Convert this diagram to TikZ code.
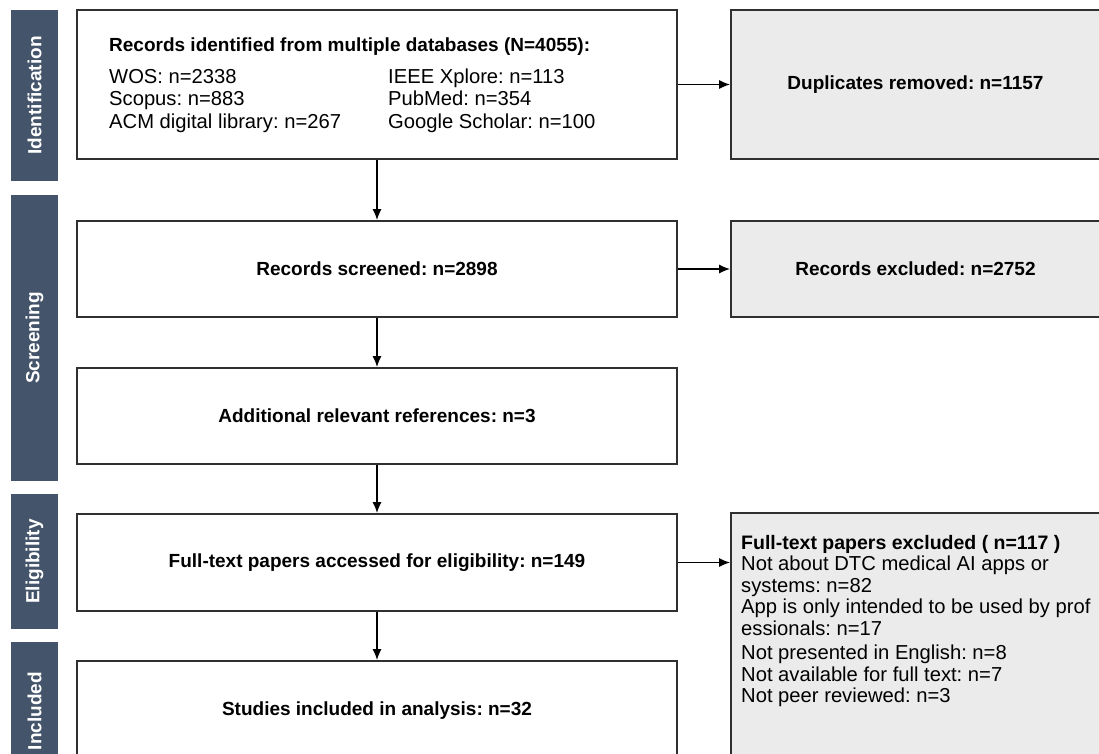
\documentclass[tikz,border=0pt]{standalone}
\usepackage{fontspec}
\setmainfont{Liberation Sans}
\usepackage{tikz}
\usetikzlibrary{positioning, arrows.meta, calc}
\definecolor{barblue}{HTML}{44546A}
\definecolor{exgray}{HTML}{EBEBEB}
\definecolor{edgegray}{HTML}{303030}
\frenchspacing

\begin{document}
\begin{tikzpicture}[x=1pt, y=-1pt,
  font=\fontsize{19}{22}\selectfont,
  mainbox/.style={draw=edgegray, line width=1.6pt, fill=white, minimum width=600pt, inner sep=0pt},
  sidebox/.style={draw=edgegray, line width=1.6pt, fill=exgray, minimum width=369pt, inner sep=0pt},
  phase/.style={fill=barblue, minimum width=47pt, inner sep=0pt},
  phasetxt/.style={text=white, font=\fontsize{19}{22}\selectfont\bfseries, rotate=90, inner sep=0pt},
  line/.style={anchor=base west, inner sep=0pt, font=\fontsize{20.2}{24}\selectfont},
  flow/.style={draw=black, line width=1.7pt, -{Latex[length=11pt,width=9pt]}}
]
\useasboundingbox (0,0) rectangle (1099,753);
\clip (0,0) rectangle (1099,753);

% phase bars on the left
\foreach \name/\top/\bot/\lab in {ident/10/181/Identification, screen/195/481/Screening, elig/494/629/Eligibility, incl/642/780/Included}{
  \node[phase, minimum height=\bot-\top] (\name) at (34.5, {(\top+\bot)/2}) {};
  \node[phasetxt] (\name txt) at (\name) {\lab};
}

% main column
\node[mainbox, minimum height=149pt] (recid) at (377, 84.5) {};
\node[mainbox, minimum height=96pt] (recscr) at (377, 269) {\bfseries Records screened: n=2898};
\node[mainbox, minimum height=96pt] (addref) at (377, 416) {\bfseries Additional relevant references: n=3};
\node[mainbox, minimum height=97pt] (fulltxt) at (377, 562.5) {\bfseries Full-text papers accessed for eligibility: n=149};
\node[mainbox, minimum height=100pt] (studies) at (377, 711) {\bfseries Studies included in analysis: n=32};

% text of the first box
\node[line, font=\fontsize{19}{22}\selectfont\bfseries] (recidtitle) at (109, 51) {Records identified from multiple databases (N=4055):};
\foreach \txt [count=\i] in {WOS: n=2338, Scopus: n=883, ACM digital library: n=267}{
  \node[line] (srcl\i) at (109, 60.5+22.5*\i) {\txt};
}
\foreach \txt [count=\i] in {IEEE Xplore: n=113, PubMed: n=354, Google Scholar: n=100}{
  \node[line] (srcr\i) at (388, 60.5+22.5*\i) {\txt};
}

% excluded column
\node[sidebox, minimum height=149pt] (dupl) at (915.5, 84.5) {\bfseries Duplicates removed: n=1157};
\node[sidebox, minimum height=96pt] (recexc) at (915.5, 269) {\bfseries Records excluded: n=2752};
\node[sidebox, minimum height=260pt] (fullexc) at (915.5, 643) {};

\node[line, font=\fontsize{19.5}{22}\selectfont\bfseries] (fullexc0) at (741, 549) {Full-text papers excluded ( n=117 )};
\foreach \txt [count=\i] in {Not about DTC medical AI apps or, systems: n=82, App is only intended to be used by prof, essionals: n=17}{
  \node[line] (fullexc\i) at (741, 549+21.5*\i) {\txt};
}
\foreach \txt [count=\i from 5] in {Not presented in English: n=8, Not available for full text: n=7, Not peer reviewed: n=3}{
  \node[line] (fullexc\i) at (741, 552+21.5*\i) {\txt};
}

% connectors
\draw[flow] (recid) -- (recscr);
\draw[flow] (recscr) -- (addref);
\draw[flow] (addref) -- (fulltxt);
\draw[flow] (fulltxt) -- (studies);
\draw[flow] (recid) -- (dupl);
\draw[flow] (recscr) -- (recexc);
\draw[flow] (fulltxt.east) -- (fulltxt.east -| fullexc.west);
\end{tikzpicture}
\end{document}
